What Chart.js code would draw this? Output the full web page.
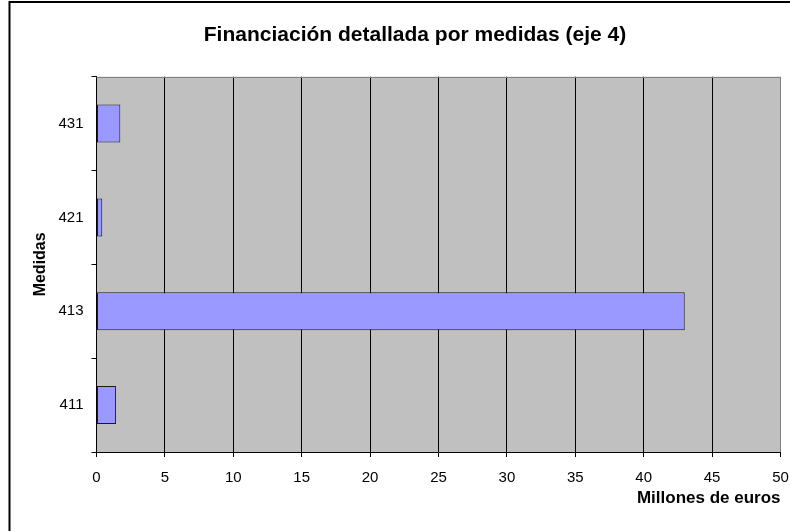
<!DOCTYPE html>
<html>
<head>
<meta charset="utf-8">
<script src="https://cdn.jsdelivr.net/npm/chart.js@4/dist/chart.umd.min.js"></script>
<style>
  html, body { margin: 0; padding: 0; background: #fff; }
  #wrap { width: 790px; height: 531px; }
</style>
</head>
<body>
<div id="wrap"><canvas id="c" width="790" height="531"></canvas></div>
<script>
const categories = ['431', '421', '413', '411'];
const values = [1.74, 0.42, 43.0, 1.43];
const xTicks = [0, 5, 10, 15, 20, 25, 30, 35, 40, 45, 50];
const chartTitle = 'Financiación detallada por medidas (eje 4)';
const xTitle = 'Millones de euros';
const yTitle = 'Medidas';

const FONT = '"Liberation Sans", Arial, sans-serif';

const bgPlugin = {
  id: 'bg',
  afterLayout(chart) {
    // shift the title centre slightly to the right, as in the reference
    if (chart.titleBlock) { chart.titleBlock.left += 40; }
  },
  beforeDraw(chart) {
    const { ctx, chartArea: a } = chart;
    ctx.save();
    ctx.fillStyle = '#fff';
    ctx.fillRect(0, 0, chart.width, chart.height);
    ctx.fillStyle = '#C0C0C0';
    ctx.fillRect(a.left, a.top, a.right - a.left, a.bottom - a.top);
    ctx.restore();
  },
  afterDraw(chart) {
    const { ctx, chartArea: a } = chart;
    ctx.save();
    ctx.strokeStyle = '#808080';
    ctx.lineWidth = 1;
    ctx.beginPath();
    ctx.moveTo(a.left, Math.round(a.top) + 0.5);
    ctx.lineTo(a.right, Math.round(a.top) + 0.5);
    ctx.stroke();
    // outer frame (left + top)
    ctx.strokeStyle = '#000';
    ctx.lineWidth = 2;
    ctx.beginPath();
    ctx.moveTo(9.5, 531);
    ctx.lineTo(9.5, 2);
    ctx.lineTo(790, 2);
    ctx.stroke();
    ctx.restore();
  }
};

new Chart(document.getElementById('c'), {
  type: 'bar',
  data: {
    labels: categories,
    datasets: [{
      data: values,
      backgroundColor: '#9999FF',
      borderColor: '#1a1a1a',
      borderWidth: 1,
      borderSkipped: false,
      categoryPercentage: 1,
      barPercentage: 0.405
    }]
  },
  options: {
    indexAxis: 'y',
    responsive: false,
    animation: false,
    devicePixelRatio: 1,
    layout: { padding: { left: 0, right: 0, top: 0, bottom: 0 } },
    plugins: {
      legend: { display: false },
      tooltip: { enabled: false },
      title: {
        display: true,
        text: chartTitle,
        color: '#000',
        font: { family: FONT, size: 21, weight: 'bold' },
        padding: { top: 22.4, bottom: 29.1 }
      }
    },
    scales: {
      x: {
        type: 'linear',
        min: 0,
        max: 50,
        afterBuildTicks(scale) { scale.ticks = xTicks.map(v => ({ value: v })); },
        afterFit(scale) {
          scale.height = 79;
          scale.paddingRight = 9.5;
          scale.paddingLeft = 0;
        },
        ticks: {
          color: '#000',
          font: { family: FONT, size: 15 },
          padding: 12,
          maxRotation: 0
        },
        grid: {
          color: ctx => (ctx.tick && ctx.tick.value === 50) ? '#808080' : '#000',
          lineWidth: 1,
          drawTicks: true,
          tickLength: 5,
          tickColor: '#000'
        },
        border: { display: true, color: '#000', width: 1 },
        title: {
          display: true,
          text: xTitle,
          align: 'end',
          color: '#000',
          font: { family: FONT, size: 17, weight: 'bold' },
          padding: { top: 0, bottom: 22 }
        }
      },
      y: {
        afterFit(scale) { scale.width = 96.5; },
        ticks: {
          color: '#000',
          font: { family: FONT, size: 15 },
          padding: 8
        },
        grid: {
          offset: true,
          drawOnChartArea: false,
          drawTicks: true,
          tickLength: 5,
          tickColor: '#000'
        },
        border: { display: true, color: '#000', width: 1 },
        title: {
          display: true,
          text: yTitle,
          color: '#000',
          font: { family: FONT, size: 16, weight: 'bold' },
          padding: { top: 31, bottom: 0 }
        }
      }
    }
  },
  plugins: [bgPlugin]
});
</script>
</body>
</html>
